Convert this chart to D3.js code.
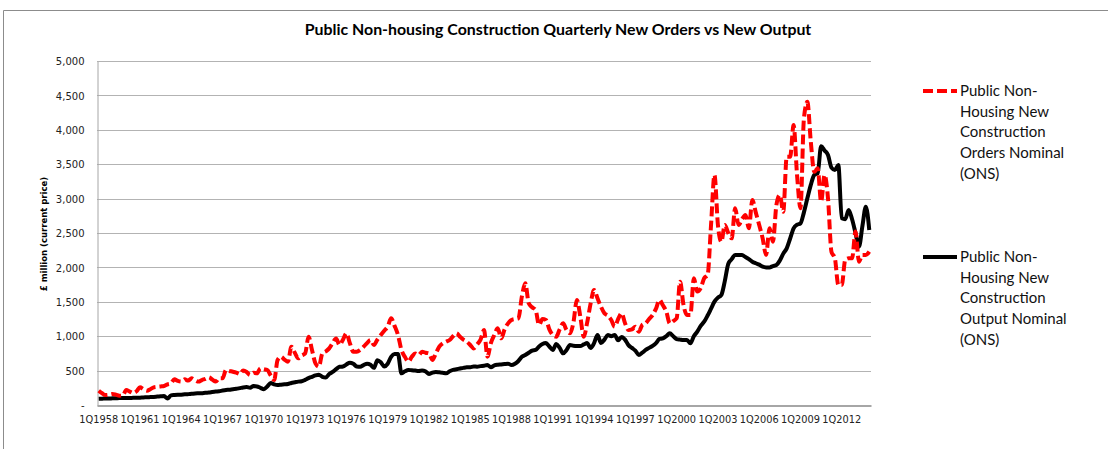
<!DOCTYPE html>
<html lang="en">
<head>
<meta charset="utf-8">
<script src="https://d3js.org/d3.v7.min.js"></script>
<title>Public Non-housing Construction Quarterly New Orders vs New Output</title>
<style>
    body { margin: 0; background: #fff; }
    .tick text { font-family: "DejaVu Sans", Verdana, sans-serif; fill: #222; }
    .legend text { font-family: Lato, Calibri, sans-serif; font-size: 15px; fill: #111; }
</style>
</head>
<body>
<div id="container"></div>
<script>
var tickLabels = ["1Q1958","1Q1961","1Q1964","1Q1967","1Q1970","1Q1973","1Q1976","1Q1979","1Q1982",
    "1Q1985","1Q1988","1Q1991","1Q1994","1Q1997","1Q2000","1Q2003","1Q2006","1Q2009","1Q2012"];

var yTicks = [0, 500, 1000, 1500, 2000, 2500, 3000, 3500, 4000, 4500, 5000];

var seriesNames = ["Public Non-Housing New Construction Orders Nominal (ONS)",
    "Public Non-Housing New Construction Output Nominal (ONS)"];

// 1Q1958 .. 1Q2014, four quarters per row
var ordersNominal = [
    208, 170, 145, 150,
    160, 150, 135, 140,
    218, 195, 175, 200,
    257, 230, 208, 230,
    257, 265, 270, 276,
    300, 315, 373, 350,
    340, 373, 355, 387,
    360, 340, 363, 380,
    402, 370, 340, 387,
    387, 508, 495, 484,
    470, 450, 500, 480,
    436, 470, 460, 533,
    520, 508, 430, 363,
    654, 702, 660, 630,
    847, 760, 678, 720,
    750, 993, 800, 605,
    557, 750, 780, 823,
    900, 968, 872, 950,
    1042, 900, 775, 775,
    800, 847, 900, 944,
    872, 950, 1017, 1080,
    1139, 1260, 1150, 1017,
    799, 700, 630, 700,
    750, 727, 775, 760,
    750, 654, 750, 850,
    896, 920, 944, 1000,
    1042, 993, 950, 920,
    872, 823, 880, 950,
    1090, 702, 900, 1017,
    1115, 969, 1100, 1187,
    1236, 1250, 1260, 1575,
    1769, 1478, 1420, 1381,
    1163, 1250, 1236, 1100,
    1017, 993, 1100, 1187,
    1090, 1042, 1200, 1527,
    1284, 993, 1200, 1478,
    1672, 1550, 1430, 1333,
    1300, 1236, 1139, 1250,
    1333, 1187, 1090, 1100,
    1139, 1066, 1163, 1187,
    1250, 1308, 1400, 1527,
    1450, 1357, 1187, 1220,
    1260, 1793, 1454, 1308,
    1308, 1842, 1648, 1700,
    1842, 1890, 2617, 3343,
    2617, 2374, 2617, 2500,
    2423, 2859, 2617, 2700,
    2762, 2568, 2980, 2800,
    2617, 2423, 2180, 2568,
    2374, 2907, 3052, 2810,
    3609, 3609, 4068, 3343,
    2859, 4165, 4407, 3827,
    3391, 3440, 2956, 3343,
    3004, 2229, 2132, 1745,
    1745, 2108, 2132, 2132,
    2520, 2083, 2180, 2180,
    2229
];

var outputNominal = [
    90, 92, 95, 95,
    97, 98, 100, 100,
    102, 103, 104, 105,
    107, 110, 112, 115,
    118, 122, 126, 130,
    95, 140, 145, 148,
    150, 155, 158, 162,
    168, 170, 172, 178,
    180, 188, 195, 200,
    210, 218, 222, 230,
    235, 245, 255, 260,
    250, 275, 270, 250,
    230, 270, 320, 300,
    290, 295, 300, 305,
    320, 330, 340, 345,
    365, 390, 410, 430,
    440, 410, 400, 450,
    480, 520, 555, 560,
    590, 615, 600, 560,
    557, 580, 600, 585,
    540, 650, 620, 560,
    600, 700, 740, 740,
    460, 490, 510, 505,
    500, 495, 500, 490,
    450, 470, 480, 475,
    470, 460, 490, 510,
    520, 530, 540, 548,
    550, 560, 557, 565,
    570, 581, 550, 575,
    585, 590, 596, 600,
    581, 600, 640, 700,
    727, 760, 790, 800,
    850, 887, 900, 850,
    800, 887, 830, 751,
    800, 872, 860, 857,
    857, 880, 900, 828,
    900, 1017, 900, 950,
    1017, 1000, 1017, 940,
    990, 950, 870, 830,
    790, 727, 760, 800,
    830, 860, 900, 960,
    969, 1000, 1042, 1000,
    959, 950, 944, 944,
    896, 1000, 1066, 1150,
    1211, 1300, 1400, 1502,
    1560, 1599, 1800, 2050,
    2120, 2180, 2180, 2180,
    2150, 2120, 2083, 2060,
    2040, 2010, 2000, 2000,
    2020, 2034, 2100, 2200,
    2277, 2420, 2568, 2620,
    2640, 2800, 3004, 3200,
    3343, 3368, 3760, 3700,
    3634, 3450, 3416, 3488,
    2713, 2700, 2834, 2700,
    2500, 2300, 2600, 2882,
    2544
];

var quarters = [];
for (var i = 0; i < ordersNominal.length; i++) {
    quarters.push((i % 4 + 1) + "Q" + (1958 + Math.floor(i / 4)));
}

var W = 1108, H = 449;
var plot = {left: 97, right: 871, top: 61, bottom: 405};

var svg = d3.select("#container")
    .append("svg")
    .attr("width", W)
    .attr("height", H);

// chart border
svg.append("path")
    .attr("d", "M3.5," + H + "V10.5H" + W)
    .attr("fill", "none")
    .attr("stroke", "#8c8c8c")
    .attr("stroke-width", 1);

svg.append("text")
    .attr("x", 558)
    .attr("y", 35)
    .attr("text-anchor", "middle")
    .style("font-family", "Lato, Calibri, sans-serif")
    .style("font-weight", "bold")
    .style("font-size", "15.9px")
    .text("Public Non-housing Construction Quarterly New Orders vs New Output");

var x = d3.scaleBand()
    .domain(quarters)
    .range([plot.left, plot.right]);

var y = d3.scaleLinear()
    .domain([0, 5000])
    .range([plot.bottom, plot.top]);

function cx(i) { return x(quarters[i]) + x.bandwidth() / 2; }

// gridlines
svg.append("g")
    .selectAll("line")
    .data(yTicks.slice(1))
    .enter()
    .append("line")
    .attr("x1", plot.left)
    .attr("x2", plot.right)
    .attr("y1", function(d) { return Math.round(y(d)) + 0.5; })
    .attr("y2", function(d) { return Math.round(y(d)) + 0.5; })
    .attr("stroke", "#b3b3b3")
    .attr("stroke-width", 1);

var yAxis = svg.append("g")
    .attr("transform", "translate(" + (plot.left + 0.5) + ",0.5)")
    .call(d3.axisLeft(y)
        .tickValues(yTicks)
        .tickSize(0)
        .tickPadding(13)
        .tickFormat(function(d) { return d === 0 ? "-" : d3.format(",")(d); }));
yAxis.select(".domain").attr("stroke", "#a6a6a6");
yAxis.selectAll(".tick text").style("font-size", "10px");

var xAxis = svg.append("g")
    .attr("transform", "translate(0," + (plot.bottom + 0.5) + ")")
    .call(d3.axisBottom(x)
        .tickValues(tickLabels)
        .tickSize(0)
        .tickPadding(11));
xAxis.select(".domain").attr("stroke", "#a6a6a6").attr("stroke-width", 2);
xAxis.selectAll(".tick text").style("font-size", "9.8px");

svg.append("text")
    .attr("transform", "translate(47,234) rotate(-90)")
    .attr("text-anchor", "middle")
    .style("font-family", "\"DejaVu Sans\", Verdana, sans-serif")
    .style("font-weight", "bold")
    .style("font-size", "8.5px")
    .text("£ million (current price)");

var line = d3.line()
    .x(function(d, i) { return cx(i); })
    .y(function(d) { return y(d); })
    .curve(d3.curveMonotoneX);

svg.append("path")
    .datum(outputNominal)
    .attr("d", line)
    .attr("fill", "none")
    .attr("stroke", "#000")
    .attr("stroke-width", 4)
    .attr("stroke-linejoin", "round");

svg.append("path")
    .datum(ordersNominal)
    .attr("d", line)
    .attr("fill", "none")
    .attr("stroke", "#ff0000")
    .attr("stroke-width", 4)
    .attr("stroke-dasharray", "10,4");

// legend
var legendItems = [
    {name: seriesNames[0], lines: ["Public Non-", "Housing New", "Construction", "Orders Nominal", "(ONS)"], y: 91, color: "#ff0000", dash: "10,4"},
    {name: seriesNames[1], lines: ["Public Non-", "Housing New", "Construction", "Output Nominal", "(ONS)"], y: 257, color: "#000", dash: null}
];

var legend = svg.append("g").attr("class", "legend");
legendItems.forEach(function(item) {
    legend.append("line")
        .attr("x1", 923)
        .attr("x2", 957)
        .attr("y1", item.y)
        .attr("y2", item.y)
        .attr("stroke", item.color)
        .attr("stroke-width", 4)
        .attr("stroke-dasharray", item.dash);
    var t = legend.append("text")
        .attr("x", 960)
        .attr("y", item.y + 5);
    t.selectAll("tspan")
        .data(item.lines)
        .enter()
        .append("tspan")
        .attr("x", 960)
        .attr("dy", function(d, i) { return i === 0 ? 0 : 20.7; })
        .text(function(d) { return d; });
});
</script>
</body>
</html>
